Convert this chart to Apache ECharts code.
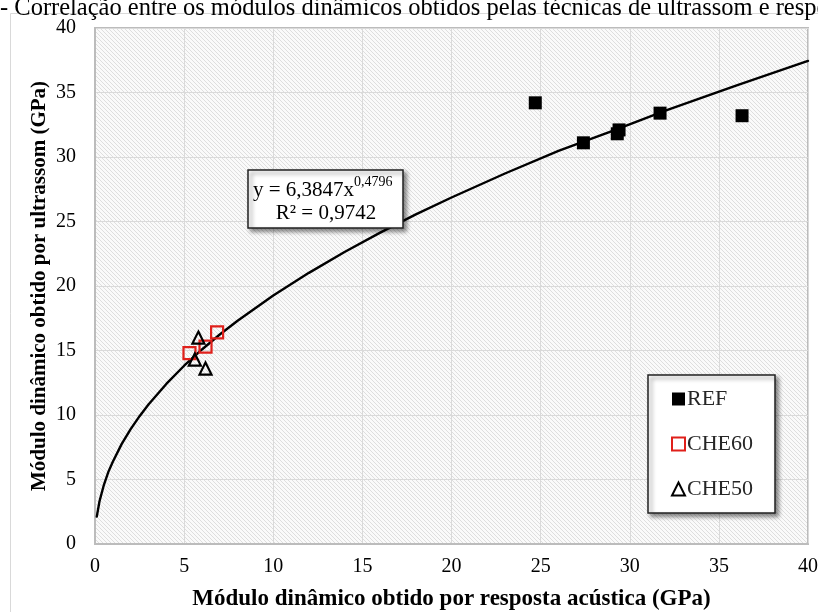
<!DOCTYPE html>
<html><head><meta charset="utf-8">
<script src="https://cdn.jsdelivr.net/npm/echarts@6/dist/echarts.min.js"></script>
<style>html,body{margin:0;padding:0;background:#fff}#c{width:818px;height:612px}</style>
</head><body><div id="c"></div>
<script>
// Data
const refData = [[24.7, 34.2], [27.4, 31.1], [29.3, 31.8], [29.4, 32.1], [31.7, 33.4], [36.3, 33.2]];
const che60Data = [[5.3, 14.8], [6.2, 15.3], [6.85, 16.4]];
const che50Data = [[5.8, 16.0], [5.6, 14.3], [6.2, 13.6]];
// Trend line (power fit y = 6,3847x^0,4796 drawn in the chart)
const trendX = [0.1, 0.25, 0.5, 0.75, 1, 1.5, 2, 2.5, 3, 4, 5, 6, 7, 8, 10, 12, 14, 16, 18, 20, 23, 26, 29, 32, 36, 40];
const trendY = [2.12, 3.29, 4.59, 5.59, 6.38, 7.76, 8.9, 9.91, 10.81, 12.41, 13.82, 15.08, 16.24, 17.31, 19.26, 21.02, 22.64, 24.14, 25.55, 26.86, 28.72, 30.47, 32.0, 33.6, 35.55, 37.45];
const xTicks = [0, 5, 10, 15, 20, 25, 30, 35, 40];
const yTicks = [0, 5, 10, 15, 20, 25, 30, 35, 40];
const seriesNames = ['REF', 'CHE60', 'CHE50'];
const titleText = '- Correlação entre os módulos dinâmicos obtidos pelas técnicas de ultrassom e resposta acústica';
const xName = 'Módulo dinâmico obtido por resposta acústica (GPa)';
const yName = 'Módulo dinâmico obtido por ultrassom (GPa)';

const FONT = '"Liberation Serif", "Times New Roman", serif';

// light diagonal hatch pattern
const pc = document.createElement('canvas');
pc.width = 4; pc.height = 4;
const g = pc.getContext('2d');
g.fillStyle = '#fafafa'; g.fillRect(0, 0, 4, 4);
g.strokeStyle = '#dedede'; g.lineWidth = 1;
g.beginPath(); g.moveTo(-1, -1); g.lineTo(5, 5); g.stroke();
g.beginPath(); g.moveTo(3, -1); g.lineTo(5, 1); g.stroke();
g.beginPath(); g.moveTo(-1, 3); g.lineTo(1, 5); g.stroke();

const trendData = trendX.map((x, i) => [x, trendY[i]]);

const chart = echarts.init(document.getElementById('c'), null, {renderer: 'canvas'});
chart.setOption({
  animation: false,
  backgroundColor: '#fff',
  grid: {
    left: 95, right: 10, top: 28, bottom: 68,
    containLabel: false, outerBoundsMode: 'none',
    show: true,
    backgroundColor: {image: pc, repeat: 'repeat'},
    borderColor: '#bcbcbc', borderWidth: 2
  },
  xAxis: {
    type: 'value', min: 0, max: 40, interval: 5,
    name: xName, nameLocation: 'middle', nameGap: 44,
    nameTextStyle: {fontFamily: FONT, fontWeight: 'bold', fontSize: 23, color: '#000'},
    axisLine: {show: true, lineStyle: {color: '#bcbcbc', width: 2}},
    axisTick: {show: false},
    axisLabel: {fontFamily: FONT, fontSize: 20, color: '#000', margin: 13,
      formatter: v => xTicks.includes(v) ? String(v) : ''},
    splitLine: {show: true, lineStyle: {color: '#dadada', width: 1}}
  },
  yAxis: {
    type: 'value', min: 0, max: 40, interval: 5,
    name: yName, nameLocation: 'middle', nameGap: 45, nameRotate: 90, nameMoveOverlap: false,
    nameTextStyle: {fontFamily: FONT, fontWeight: 'bold', fontSize: 21, color: '#000'},
    axisLine: {show: true, lineStyle: {color: '#bcbcbc', width: 2}},
    axisTick: {show: false},
    axisLabel: {fontFamily: FONT, fontSize: 20, color: '#000', margin: 19,
      formatter: v => yTicks.includes(v) ? String(v) : ''},
    splitLine: {show: true, lineStyle: {color: '#dadada', width: 1}}
  },
  legend: {
    orient: 'vertical', left: 648, top: 375,
    data: seriesNames,
    itemWidth: 13, itemHeight: 13, itemGap: 23,
    padding: [13, 22, 13, 23],
    backgroundColor: '#fff', borderColor: '#222', borderWidth: 1.5,
    shadowBlur: 4, shadowOffsetX: 3, shadowOffsetY: 3, shadowColor: 'rgba(0,0,0,0.45)',
    textStyle: {fontFamily: FONT, fontSize: 22, color: '#262626', padding: [0, 0, 0, -3]}
  },
  series: [
    {
      name: 'trend', type: 'line', data: trendData, smooth: false,
      showSymbol: false, symbol: 'none',
      lineStyle: {color: '#000', width: 2.4, join: 'round', cap: 'round'}, z: 3, silent: true
    },
    {
      name: seriesNames[0], type: 'scatter', data: refData, symbol: 'rect', symbolSize: 13,
      itemStyle: {color: '#000', opacity: 1}, z: 4
    },
    {
      name: seriesNames[1], type: 'scatter', data: che60Data, symbol: 'rect', symbolSize: 12,
      itemStyle: {color: 'rgba(255,255,255,0)', borderColor: '#e0201b', borderWidth: 2.2, opacity: 1}, z: 4
    },
    {
      name: seriesNames[2], type: 'scatter', data: che50Data, symbol: 'triangle', symbolSize: 12,
      itemStyle: {color: 'rgba(255,255,255,0)', borderColor: '#000', borderWidth: 2.2, opacity: 1}, z: 4
    }
  ],
  graphic: [
    {type: 'rect', shape: {x: 10.5, y: 13.5, width: 830, height: 620}, style: {fill: 'none', stroke: '#d9d9d9', lineWidth: 1}, z: -10, silent: true},
    {type: 'text', left: 0, top: -4, style: {text: titleText, font: '24.5px ' + FONT, fill: '#000'}, z: 10},
    {type: 'rect', shape: {x: 248, y: 170, width: 155, height: 58},
      style: {fill: '#fff', stroke: '#222', lineWidth: 1.5, shadowBlur: 4, shadowOffsetX: 3, shadowOffsetY: 3, shadowColor: 'rgba(0,0,0,0.45)'}, z: 20},
    {type: 'text', x: 253, y: 188, z: 21,
      style: {
        text: '{a|y = 6,3847x}{s|0,4796}', align: 'left', verticalAlign: 'middle',
        rich: {
          a: {fontFamily: FONT, fontSize: 21, color: '#000', lineHeight: 26, verticalAlign: 'bottom'},
          s: {fontFamily: FONT, fontSize: 14, color: '#000', lineHeight: 26, verticalAlign: 'top'}
        }
      }},
    {type: 'text', x: 326, y: 213, z: 21,
      style: {text: 'R² = 0,9742', font: '21px ' + FONT, fill: '#000', align: 'center', verticalAlign: 'middle'}}
  ]
});
</script></body></html>
